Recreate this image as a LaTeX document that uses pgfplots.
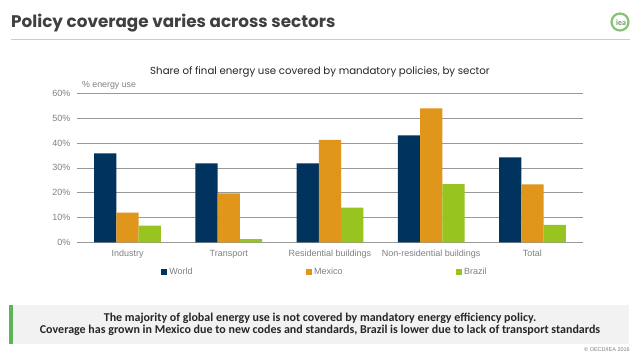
\documentclass[border=0pt]{standalone}
\usepackage{pgfplots}
\pgfplotsset{compat=1.18}
\usepackage{fontspec}
\setmainfont{Liberation Sans}
\newfontfamily\gothic{Poppins}
\newfontfamily\calib{Carlito}
\definecolor{world}{HTML}{00345F}
\definecolor{mexico}{HTML}{E0961B}
\definecolor{brazil}{HTML}{97C41F}
\definecolor{lbl}{HTML}{808080}
\definecolor{ttl}{HTML}{404040}
\definecolor{boxbg}{HTML}{F2F2F2}
\definecolor{boxgreen}{HTML}{5DB55A}
\definecolor{ieagreen}{HTML}{84C474}
\begin{document}
\begin{tikzpicture}
\fill[white] (0,0) rectangle (638bp,-359bp);
\path[use as bounding box] (0,0) rectangle (638bp,-359bp);
% header
\node[anchor=base west,inner sep=0pt,text=ttl,font=\gothic\bfseries\fontsize{16.8bp}{19bp}\selectfont] at (11bp,-27.5bp) {Policy coverage varies across sectors};
\draw[gray!40,line width=0.8bp] (11bp,-39.5bp) -- (630bp,-39.5bp);
\draw[ieagreen,line width=2.2bp] (620bp,-22bp) circle (8.5bp);
\node[text=ieagreen!80!black,font=\calib\bfseries\fontsize{8bp}{8bp}\selectfont,inner sep=0pt] at (621bp,-22.5bp) {iea};
% chart title
\node[font=\gothic\fontsize{10.2bp}{11bp}\selectfont,text=black!85,inner sep=0pt] at (320bp,-71.7bp) {Share of final energy use covered by mandatory policies, by sector};
\node[anchor=west,font=\fontsize{8.8bp}{10bp}\selectfont,text=lbl,inner sep=0pt] at (82bp,-85.7bp) {\% energy use};
\begin{axis}[
  at={(77bp,-242.3bp)}, anchor=south west,
  scale only axis, width=506bp, height=149bp,
  xmin=-0.5, xmax=4.5, ymin=0, ymax=60,
  ybar=0pt, bar width=0.22,
  xtick={0,1,2,3,4},
  xticklabels={Industry,Transport,Residential buildings,Non-residential buildings,Total},
  ytick={0,10,20,30,40,50,60},
  yticklabel={\pgfmathprintnumber{\tick}\%},
  /pgf/number format/assume math mode=true,
  major tick length=0pt,
  tick label style={font=\fontsize{9bp}{10bp}\selectfont,text=lbl},
  xticklabel style={yshift=-4.5bp},
  yticklabel style={xshift=-3bp},
  ymajorgrids, grid style={color=black!40,line width=0.6bp},
  axis line style={draw=none},
  legend columns=3,
  legend style={draw=none,fill=none,at={(0.49,-0.2)},anchor=center,
    font=\fontsize{9bp}{10bp}\selectfont,text=lbl,
    /tikz/every even column/.append style={column sep=111.5bp}},
  legend image code/.code={\fill[#1,draw=none] (0bp,-3bp) rectangle (6bp,3bp);},
]
\addplot[fill=world,draw=none] coordinates {(0,35.8) (1,31.8) (2,31.8) (3,43.1) (4,34.2)};
\addplot[fill=mexico,draw=none] coordinates {(0,12.0) (1,19.7) (2,41.2) (3,53.9) (4,23.3)};
\addplot[fill=brazil,draw=none] coordinates {(0,6.7) (1,1.3) (2,14.0) (3,23.4) (4,7.0)};
\legend{World,Mexico,Brazil}
\end{axis}
% bottom box
\fill[boxbg] (9bp,-305bp) rectangle (629bp,-344bp);
\fill[boxgreen] (9bp,-305bp) rectangle (13bp,-344bp);
\node[align=center,font=\calib\bfseries\fontsize{12bp}{12bp}\selectfont,text=black!85,inner sep=0pt] at (320bp,-324bp) {The majority of global energy use is not covered by mandatory energy efficiency policy.\\Coverage has grown in Mexico due to new codes and standards, Brazil is lower due to lack of transport standards};
\node[anchor=east,font=\fontsize{5.5bp}{6bp}\selectfont,text=lbl,inner sep=0pt] at (630bp,-350bp) {© OECD/IEA 2016};
\end{tikzpicture}
\end{document}
